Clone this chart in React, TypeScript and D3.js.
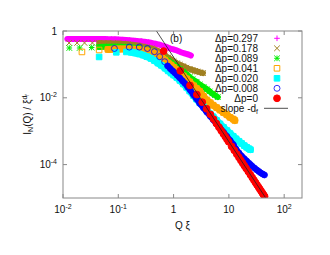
import React from "react";
import * as d3 from "d3";

const width = 330;
const height = 255;
const margin = { top: 31, right: 28, bottom: 57, left: 63 };

const seriesLabels = ["Δp=0.297", "Δp=0.178", "Δp=0.089", "Δp=0.041", "Δp=0.020", "Δp=0.008", "Δp=0"];
const seriesColors = ["#ff00ff", "#a08020", "#00ee00", "#ffa500", "#00ffff", "#0000ff", "#ff0000"];
const seriesShapes = ["plus", "cross", "star", "square", "fsquare", "circle", "fcircle"];
const bandWidths = [6, 6, 6, 7, 7, 6, 0];
const bandStart = [0, 4, 3, 2, 3, 7, -1];

// Δp = 0.297
const q297 = [0.012, 0.014, 0.016, 0.019, 0.022, 0.026, 0.03, 0.035, 0.04, 0.047, 0.055, 0.064, 0.075, 0.087, 0.1, 0.12, 0.14, 0.16, 0.19, 0.22, 0.26, 0.3, 0.35, 0.4, 0.47, 0.55, 0.64, 0.75, 0.87, 1.0, 1.15, 1.3, 1.5, 1.7, 1.9, 2.05];
const i297 = [0.58, 0.58, 0.58, 0.58, 0.58, 0.58, 0.58, 0.58, 0.58, 0.575, 0.575, 0.57, 0.57, 0.565, 0.56, 0.55, 0.54, 0.53, 0.515, 0.5, 0.49, 0.475, 0.46, 0.44, 0.415, 0.39, 0.36, 0.33, 0.3, 0.28, 0.26, 0.24, 0.22, 0.205, 0.195, 0.185];
// Δp = 0.178
const q178 = [0.0129, 0.018, 0.0245, 0.034, 0.045, 0.055, 0.065, 0.08, 0.1, 0.12, 0.15, 0.18, 0.22, 0.27, 0.33, 0.4, 0.5, 0.6, 0.7, 0.8, 0.9, 1.0, 1.15, 1.3, 1.5, 1.7, 1.95, 2.2, 2.45, 2.7, 3.0, 3.4];
const i178 = [0.44, 0.44, 0.44, 0.44, 0.435, 0.43, 0.43, 0.425, 0.42, 0.41, 0.4, 0.385, 0.37, 0.345, 0.32, 0.3, 0.26, 0.22, 0.185, 0.16, 0.14, 0.125, 0.108, 0.098, 0.088, 0.08, 0.073, 0.068, 0.064, 0.061, 0.058, 0.055];
// Δp = 0.089
const q089 = [0.013, 0.02, 0.033, 0.045, 0.055, 0.07, 0.085, 0.1, 0.12, 0.15, 0.18, 0.22, 0.27, 0.33, 0.4, 0.5, 0.6, 0.7, 0.8, 0.9, 1.0, 1.15, 1.3, 1.5, 1.72, 1.95, 2.2, 2.6, 2.97, 3.5, 4.0, 4.5, 5.0, 5.6, 6.3];
const i089 = [0.31, 0.31, 0.32, 0.33, 0.335, 0.34, 0.34, 0.34, 0.335, 0.33, 0.32, 0.31, 0.29, 0.27, 0.245, 0.21, 0.175, 0.15, 0.13, 0.113, 0.1, 0.085, 0.072, 0.06, 0.05, 0.042, 0.036, 0.03, 0.025, 0.021, 0.018, 0.0155, 0.0135, 0.012, 0.0105];
// Δp = 0.041
const q041 = [0.022, 0.045, 0.065, 0.08, 0.1, 0.12, 0.15, 0.18, 0.22, 0.27, 0.33, 0.4, 0.5, 0.6, 0.7, 0.8, 0.9, 1.0, 1.15, 1.3, 1.5, 1.72, 1.95, 2.3, 2.6, 2.97, 3.5, 4.0, 4.6, 5.2, 6.0, 6.9, 8.0, 9.2, 10.5, 12.0, 12.8];
const i041 = [0.236, 0.27, 0.28, 0.285, 0.29, 0.29, 0.29, 0.285, 0.28, 0.27, 0.255, 0.235, 0.205, 0.165, 0.135, 0.11, 0.095, 0.082, 0.068, 0.056, 0.045, 0.037, 0.03, 0.023, 0.019, 0.0155, 0.011, 0.0085, 0.0071, 0.006, 0.0051, 0.0043, 0.0036, 0.0031, 0.0026, 0.0023, 0.0021];
// Δp = 0.020
const q020 = [0.045, 0.092, 0.14, 0.17, 0.2, 0.24, 0.28, 0.33, 0.39, 0.45, 0.52, 0.6, 0.7, 0.8, 0.9, 1.0, 1.15, 1.3, 1.5, 1.72, 1.95, 2.3, 2.6, 2.97, 3.5, 4.0, 4.6, 5.2, 6.0, 6.9, 8.0, 9.2, 10.5, 12.0, 13.5, 15.2, 17.0, 19.0, 21.0, 23.0, 24.5];
const i020 = [0.167, 0.23, 0.236, 0.23, 0.22, 0.205, 0.19, 0.17, 0.15, 0.13, 0.11, 0.094, 0.077, 0.064, 0.055, 0.048, 0.04, 0.033, 0.026, 0.0205, 0.016, 0.0115, 0.0091, 0.0071, 0.0054, 0.0042, 0.0033, 0.0027, 0.0021, 0.00165, 0.0013, 0.00105, 0.00085, 0.0007, 0.00059, 0.0005, 0.00043, 0.00037, 0.00033, 0.0003, 0.00028];
// Δp = 0.008
const q008 = [0.085, 0.158, 0.24, 0.336, 0.45, 0.56, 0.69, 0.78, 0.87, 0.96, 1.05, 1.15, 1.3, 1.45, 1.6, 1.8, 2.0, 2.3, 2.6, 2.97, 3.5, 4.0, 4.6, 5.2, 6.0, 6.9, 8.0, 9.2, 10.5, 12.0, 13.5, 15.2, 17.0, 19.0, 21.0, 23.5, 26.0, 29.0, 32.0, 35.0, 38.0, 41.0, 44.0];
const i008 = [0.3, 0.33, 0.33, 0.3, 0.24, 0.17, 0.12, 0.09, 0.075, 0.064, 0.056, 0.048, 0.039, 0.032, 0.027, 0.021, 0.0168, 0.0122, 0.0093, 0.0068, 0.0049, 0.0037, 0.0028, 0.0022, 0.00165, 0.00125, 0.00093, 0.0007, 0.00053, 0.0004, 0.00029, 0.000225, 0.00018, 0.00015, 0.000128, 0.000108, 9.2e-5, 7.9e-5, 6.9e-5, 6.2e-5, 5.6e-5, 5.2e-5, 4.9e-5];
// Δp = 0
const q000 = [0.66, 1.32, 1.98, 2.64, 3.3, 3.96, 4.62, 5.28, 5.94, 6.6, 7.26, 7.92, 8.58, 9.24, 9.9, 11.2, 12.5, 13.9, 15.2, 16.5, 17.8, 19.1, 20.5, 22.4, 24.4, 26.4, 28.4, 30.4, 32.3, 34.3, 36.3, 38.3, 40.3, 42.2, 44.2];
const i000 = [0.25, 0.064, 0.0235, 0.0125, 0.0074, 0.0047, 0.0032, 0.0023, 0.0017, 0.00132, 0.00104, 0.00084, 0.00069, 0.00057, 0.00048, 0.00035, 0.000267, 0.000205, 0.000164, 0.000133, 0.00011, 9.2e-5, 7.7e-5, 6.2e-5, 5.0e-5, 4.1e-5, 3.4e-5, 2.87e-5, 2.46e-5, 2.12e-5, 1.84e-5, 1.61e-5, 1.41e-5, 1.26e-5, 1.12e-5];

const seriesQ = [q297, q178, q089, q041, q020, q008, q000];
const seriesI = [i297, i178, i089, i041, i020, i008, i000];

// guide line with slope -d_f
const slopeDf = 2.53;
const slopeQ = [0.49, 46];

const xTicks = [0.01, 0.1, 1, 10, 100];
const xTickLabels = [["10", "-2"], ["10", "-1"], ["1", ""], ["10", ""], ["10", "2"]];
const yTicks = [1, 1e-2, 1e-4];
const yTickLabels = [["1", ""], ["10", "-2"], ["10", "-4"]];

function markerPath(shape: string, x: number, y: number, s: number) {
  const plus = `M${x - s},${y}H${x + s}M${x},${y - s}V${y + s}`;
  const cross = `M${x - s},${y - s}L${x + s},${y + s}M${x - s},${y + s}L${x + s},${y - s}`;
  if (shape === "plus") return plus;
  if (shape === "cross") return cross;
  if (shape === "star") return plus + cross;
  if (shape === "square" || shape === "fsquare")
    return `M${x - s},${y - s}h${2 * s}v${2 * s}h${-2 * s}Z`;
  return `M${x - s},${y}a${s},${s} 0 1,0 ${2 * s},0a${s},${s} 0 1,0 ${-2 * s},0Z`;
}

function Marker({ shape, x, y, color }: { shape: string; x: number; y: number; color: string }) {
  const filled = shape === "fsquare" || shape === "fcircle";
  const s = shape === "fcircle" ? 3.4 : shape === "circle" ? 3 : 2.8;
  return (
    <path
      d={markerPath(shape, x, y, s)}
      fill={filled ? color : "none"}
      stroke={color}
      strokeWidth={shape === "circle" ? 0.8 : 1}
    />
  );
}

export default function App() {
  const x = d3.scaleLog().domain([0.01, 210]).range([margin.left, width - margin.right]);
  const y = d3.scaleLog().domain([1e-5, 1]).range([height - margin.bottom, margin.top]);
  const left = margin.left, right = width - margin.right;
  const top = margin.top, bottom = height - margin.bottom;

  const band = d3
    .line<[number, number]>()
    .x((d) => x(d[0]))
    .y((d) => y(d[1]))
    .curve(d3.curveMonotoneX);

  const font = "'Liberation Sans', Arial, Helvetica, sans-serif";
  const frame = "#888";

  return (
    <svg
      width={width}
      height={height}
      style={{ position: "fixed", left: 0, top: 0, background: "#fff" }}
      fontFamily={font}
    >
      <defs>
        <clipPath id="plot">
          <rect x={left} y={top} width={right - left} height={bottom - top} />
        </clipPath>
      </defs>

      <g clipPath="url(#plot)">
        {seriesQ.map((qs, si) => {
          const pts = qs.map((q, k) => [q, seriesI[si][k]] as [number, number]);
          const color = seriesColors[si];
          return (
            <g key={si}>
              {bandStart[si] >= 0 && (
                <path
                  d={band(pts.slice(bandStart[si])) || ""}
                  fill="none"
                  stroke={color}
                  strokeWidth={bandWidths[si]}
                  strokeLinecap="round"
                  strokeLinejoin="round"
                />
              )}
              {pts.map((p, k) => (
                <Marker key={k} shape={seriesShapes[si]} x={x(p[0])} y={y(p[1])} color={color} />
              ))}
            </g>
          );
        })}
        <line
          x1={x(slopeQ[0])}
          y1={y(Math.pow(slopeQ[0] / slopeQ[0], -slopeDf))}
          x2={x(slopeQ[1])}
          y2={y(Math.pow(slopeQ[1] / slopeQ[0], -slopeDf))}
          stroke="#222"
          strokeWidth={0.8}
        />
      </g>

      {/* frame and ticks */}
      <rect x={left} y={top} width={right - left} height={bottom - top} fill="none" stroke={frame} strokeWidth={1} />
      {xTicks.map((t, i) => (
        <g key={"x" + i}>
          <line x1={x(t)} x2={x(t)} y1={bottom} y2={bottom - 4} stroke={frame} />
          <line x1={x(t)} x2={x(t)} y1={top} y2={top + 4} stroke={frame} />
          <text x={x(t)} y={bottom + 15} textAnchor="middle" fontSize={10} fill="#111">
            {xTickLabels[i][0]}
            {xTickLabels[i][1] && (
              <tspan fontSize={7} dy={-4}>
                {xTickLabels[i][1]}
              </tspan>
            )}
          </text>
        </g>
      ))}
      {yTicks.map((t, i) => (
        <g key={"y" + i}>
          <line x1={left} x2={left + 4} y1={y(t)} y2={y(t)} stroke={frame} />
          <line x1={right} x2={right - 4} y1={y(t)} y2={y(t)} stroke={frame} />
          <text x={left - 6} y={y(t) + 3.5} textAnchor="end" fontSize={10} fill="#111">
            {yTickLabels[i][0]}
            {yTickLabels[i][1] && (
              <tspan fontSize={7} dy={-4}>
                {yTickLabels[i][1]}
              </tspan>
            )}
          </text>
        </g>
      ))}

      {/* axis titles */}
      <text x={(left + right) / 2} y={bottom + 31} textAnchor="middle" fontSize={10} fill="#111">
        Q ξ
      </text>
      <text transform={`translate(31,${(top + bottom) / 2}) rotate(-90)`} textAnchor="middle" fontSize={10} fill="#111">
        I<tspan fontSize={7} dy={2}>N</tspan>
        <tspan dy={-2}>(Q) / ξ</tspan>
        <tspan fontSize={7} dy={-4}>d</tspan>
        <tspan fontSize={5} dy={2}>f</tspan>
      </text>

      <text x={170} y={41.5} fontSize={10} fill="#111">(b)</text>

      {/* legend */}
      {seriesLabels.map((lab, i) => {
        const ly = 38.3 + 10 * i;
        return (
          <g key={"l" + i}>
            <text x={258} y={ly + 3.5} textAnchor="end" fontSize={10} fill="#111">
              {lab}
            </text>
            <Marker shape={seriesShapes[i]} x={277} y={ly} color={seriesColors[i]} />
          </g>
        );
      })}
      <text x={258} y={38.3 + 70 + 3.5} textAnchor="end" fontSize={10} fill="#111">
        slope -d<tspan fontSize={7} dy={2}>f</tspan>
      </text>
      <line x1={264} x2={288} y1={108.3} y2={108.3} stroke="#222" strokeWidth={0.8} />
    </svg>
  );
}
